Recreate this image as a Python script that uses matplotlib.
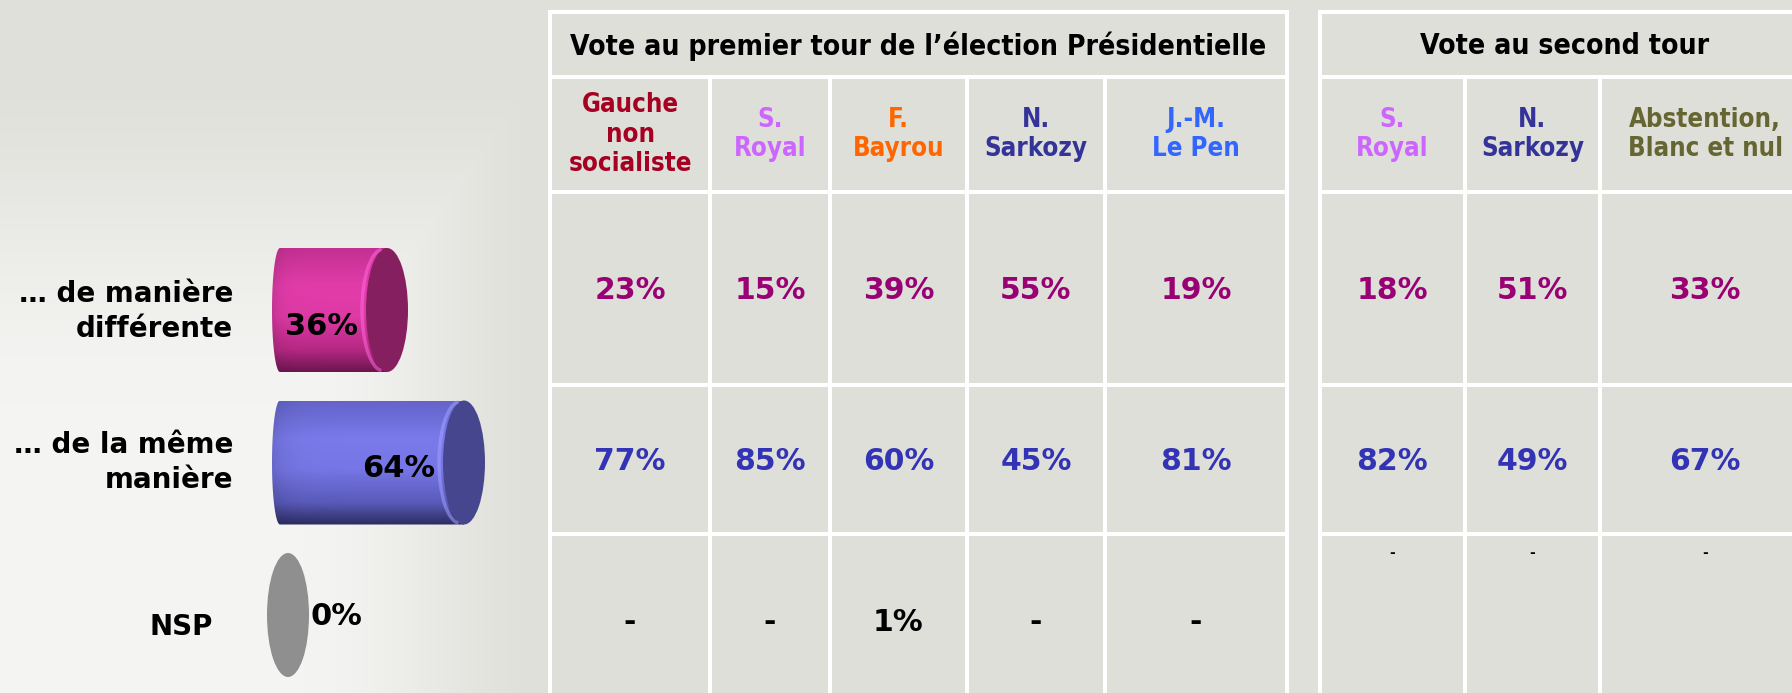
import numpy as np
import matplotlib
matplotlib.use('Agg')
import matplotlib.pyplot as plt
from matplotlib.patches import Rectangle, Ellipse, PathPatch, Arc
from matplotlib.path import Path

# ---- data -------------------------------------------------------------
rep_labels = ['… de manière\ndifférente', '… de la même\nmanière', 'NSP']
rep_values = [36, 64, 0]

t1_title = 'Vote au premier tour de l’élection Présidentielle'
t1_heads = ['Gauche\nnon\nsocialiste', 'S.\nRoyal', 'F.\nBayrou', 'N.\nSarkozy', 'J.-M.\nLe Pen']
t1_diff = [23, 15, 39, 55, 19]
t1_meme = [77, 85, 60, 45, 81]
t1_nsp = [None, None, 1, None, None]

t2_title = 'Vote au second tour'
t2_heads = ['S.\nRoyal', 'N.\nSarkozy', 'Abstention,\nBlanc et nul']
t2_diff = [18, 51, 33]
t2_meme = [82, 49, 67]
t2_nsp = [None, None, None]

# ---- styles -----------------------------------------------------------
t1_colors = ['#a50021', '#cc66ff', '#ff6600', '#333399', '#3366ff']
t2_colors = ['#cc66ff', '#333399', '#666633']
diff_color = '#990073'
meme_color = '#3333b5'
cell_color = '#dfdfda'
COND = dict(family='DejaVu Sans', fontweight='bold', fontstretch='condensed')
BOLD = dict(family='DejaVu Sans', fontweight='bold')

W, H = 1792, 693
fig = plt.figure(figsize=(W / 100, H / 100), dpi=100)

# background + table axes, in pixel units
ax = fig.add_axes([0, 0, 1, 1])
ax.set_xlim(0, W)
ax.set_ylim(H, 0)
ax.axis('off')

yy, xx = np.mgrid[0:H, 0:W]
d = np.maximum(np.abs(xx - 100) / 450.0, np.abs(yy - H) / 640.0)
t = np.clip(1 - d, 0, 1)
t = np.clip(t / 0.55, 0, 1)
t = t * t * (3 - 2 * t)
base = np.array([224, 224, 219]) / 255.0
light = np.array([244, 244, 242]) / 255.0
bg = base[None, None, :] * (1 - t[..., None]) + light[None, None, :] * t[..., None]
ax.imshow(bg, extent=(0, W, H, 0), aspect='auto', zorder=0)

rows_y = [12, 77, 192, 385, 534, 700]
lw = 2.9


def draw_table(title, heads, colors, diff, meme, nsp, xs, big_dash):
    x0, x1 = xs[0], xs[-1]
    ax.add_patch(Rectangle((x0, rows_y[0]), x1 - x0, rows_y[-1] - rows_y[0],
                           fc=cell_color, ec='none', zorder=1))
    for y in rows_y[:-1]:
        ax.plot([x0, x1], [y, y], color='white', lw=lw, zorder=2, solid_capstyle='butt')
    for x in (x0, x1):
        ax.plot([x, x], [rows_y[0], rows_y[-1]], color='white', lw=lw, zorder=2)
    for x in xs[1:-1]:
        ax.plot([x, x], [rows_y[1], rows_y[-1]], color='white', lw=lw, zorder=2)
    ax.text((x0 + x1) / 2, (rows_y[0] + rows_y[1]) / 2 + 2, title, ha='center', va='center',
            fontsize=20.3, color='black', zorder=3, **COND)
    for j in range(len(heads)):
        cx = (xs[j] + xs[j + 1]) / 2
        ax.text(cx, (rows_y[1] + rows_y[2]) / 2, heads[j], ha='center', va='center',
                fontsize=18.5, color=colors[j], linespacing=1.17, zorder=3, **COND)
        ax.text(cx, (rows_y[2] + rows_y[3]) / 2 + 2, '%d%%' % diff[j], ha='center', va='center',
                fontsize=21.5, color=diff_color, zorder=3, **BOLD)
        ax.text(cx, (rows_y[3] + rows_y[4]) / 2 + 2, '%d%%' % meme[j], ha='center', va='center',
                fontsize=21.5, color=meme_color, zorder=3, **BOLD)
        if nsp[j] is not None:
            ax.text(cx, (rows_y[4] + 693) / 2 + 9, '%d%%' % nsp[j], ha='center', va='center',
                    fontsize=21.5, color='black', zorder=3, **BOLD)
        elif big_dash:
            ax.text(cx, (rows_y[4] + 693) / 2 + 9, '-', ha='center', va='center',
                    fontsize=21.5, color='black', zorder=3, **BOLD)
        else:
            ax.text(cx, rows_y[4] + 12, '-', ha='center', va='top',
                    fontsize=10, color='black', zorder=3, **BOLD)


draw_table(t1_title, t1_heads, t1_colors, t1_diff, t1_meme, t1_nsp,
           [550, 710, 830, 967, 1105, 1287], True)
draw_table(t2_title, t2_heads, t2_colors, t2_diff, t2_meme, t2_nsp,
           [1320, 1465, 1600, 1810], False)

# ---- cylinder bar chart ----------------------------------------------
px_pct = 2.75       # pixels per percent
x_zero = 288        # pixel of value 0
y_first, y_step = 310, 152.5
axc = fig.add_axes([0, 0, 1, 1])
axc.patch.set_alpha(0)
axc.set_xlim(-x_zero / px_pct, (W - x_zero) / px_pct)
axc.set_ylim((H - y_first) / y_step, -y_first / y_step)
axc.axis('off')

ew = 42 / px_pct      # cap ellipse width in percent units
lw_end = 8 / px_pct   # half width of the flat left end
bh = 124 / y_step     # bar height in category units

body_stops = {
    0: ([0, .3, .55, .82, 1], [(195, 48, 145), (226, 60, 170), (222, 58, 165), (182, 40, 132), (108, 22, 80)]),
    1: ([0, .3, .55, .82, 1], [(100, 100, 202), (122, 122, 235), (118, 118, 230), (90, 90, 186), (44, 44, 98)]),
    2: ([0, 1], [(143, 143, 143), (143, 143, 143)]),
}
cap_colors = ['#861f60', '#46468e', '#8f8f8f']
rim_colors = ['#ff66dd', '#a0a0ff', '#8f8f8f']
bar_label_dy = [0.11, 0.04, 0.01]

for i, v in enumerate(rep_values):
    yc = i
    top, bot = yc - bh / 2, yc + bh / 2
    if v > 0:
        stops, cols = body_stops[i]
        f = np.linspace(0, 1, 120)
        cols = np.array(cols) / 255.0
        prof = np.stack([np.interp(f, stops, cols[:, k]) for k in range(3)], axis=1)
        xf = np.linspace(0, 1, 80)
        edge = 1 - 0.12 * np.exp(-xf * 14)
        img = prof[:, None, :] * edge[None, :, None]
        xl = -lw_end
        th = np.linspace(np.pi / 2, 3 * np.pi / 2, 60)
        verts = [(v, top), (xl, top)] + \
                [(xl + lw_end * np.cos(a), yc - bh / 2 * np.sin(a)) for a in th] + \
                [(xl, bot), (v, bot), (v, top)]
        clip = PathPatch(Path(verts, closed=True), fc='none', ec='none', transform=axc.transData)
        axc.add_patch(clip)
        im = axc.imshow(img, extent=(xl - lw_end, v + 0.01, bot, top), aspect='auto', zorder=2,
                        interpolation='bilinear')
        im.set_clip_path(clip)
    axc.add_patch(Ellipse((v, yc), ew, bh, fc=cap_colors[i], ec='none', zorder=3))
    if v > 0:
        axc.add_patch(Arc((v - 4 / px_pct, yc), ew, bh * 0.98, theta1=145, theta2=215,
                          color=rim_colors[i], lw=2.5, alpha=0.55, zorder=3))
        axc.text(v - 10.5, yc + bar_label_dy[i], '%d%%' % v, ha='right', va='center', fontsize=22,
                 color='black', zorder=4, **BOLD)
    else:
        axc.text(v + ew / 2 + 0.4, yc + bar_label_dy[i], '%d%%' % v, ha='left', va='center',
                 fontsize=22, color='black', zorder=4, **BOLD)

label_right = [233, 233, 213]
label_dy = [0.01, 0.0, 0.08]
for i, lab in enumerate(rep_labels):
    axc.text((label_right[i] - x_zero) / px_pct, i + label_dy[i], lab, ha='right', va='center',
             multialignment='right', fontsize=20, color='black', linespacing=1.35, zorder=4, **BOLD)

fig.savefig('out.png', dpi=100)
